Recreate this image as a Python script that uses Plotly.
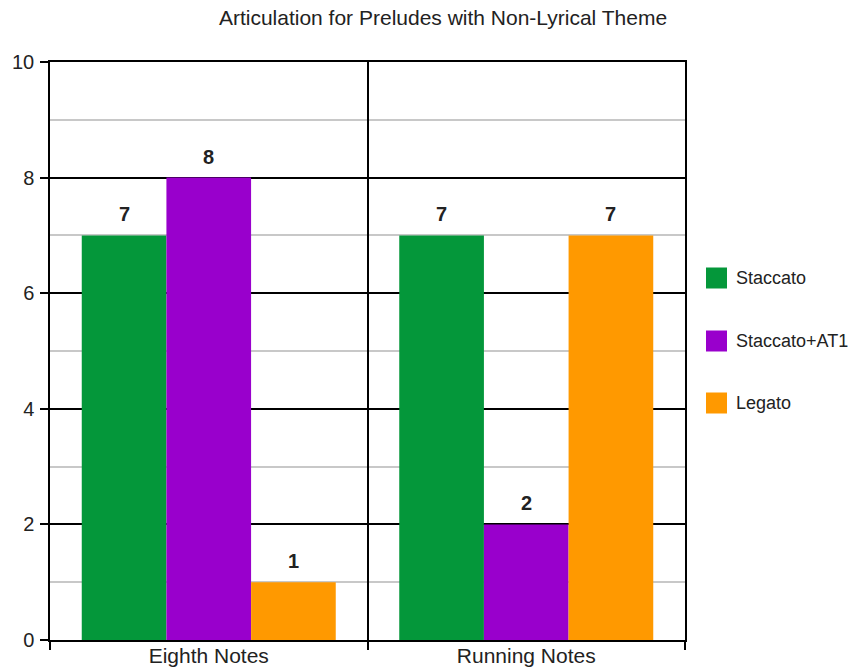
import plotly.graph_objects as go

# Chart data
categories = ["Eighth Notes", "Running Notes"]
series_names = ["Staccato", "Staccato+AT1", "Legato"]
staccato = [7, 7]
staccato_at1 = [8, 2]
legato = [1, 7]
series_values = [staccato, staccato_at1, legato]
series_colors = ["#04973a", "#9900cc", "#ff9900"]
y_ticks = [0, 2, 4, 6, 8, 10]

FONT = "Liberation Sans, Arial, sans-serif"
W, H = 848, 669
M_L, M_R, M_T, M_B = 50, 163, 62, 29
PLOT_W = W - M_L - M_R
PLOT_H = H - M_T - M_B
BARGAP = 0.2
n_series = len(series_names)
bar_px = PLOT_W / len(categories) * (1 - BARGAP) / n_series

fig = go.Figure()
annotations = []
for j, (name, vals, col) in enumerate(zip(series_names, series_values, series_colors)):
    fig.add_trace(go.Bar(
        x=categories, y=vals, name=name,
        marker=dict(color=col, line=dict(width=0)),
        showlegend=False,
    ))
    # value labels above each bar
    for cat, v in zip(categories, vals):
        annotations.append(dict(
            x=cat, y=v, xref="x", yref="y", showarrow=False,
            xshift=(j - (n_series - 1) / 2) * bar_px, yshift=8,
            xanchor="center", yanchor="bottom", text=f"<b>{v}</b>",
            font=dict(family=FONT, size=20, color="#222222"),
        ))

# Legend drawn as coloured squares with labels to the right of the plot
shapes = []
leg_x0 = 706
leg_size = 21
leg_centers = [278, 341, 403]
for name, col, cy in zip(series_names, series_colors, leg_centers):
    shapes.append(dict(
        type="rect", xref="paper", yref="paper",
        x0=(leg_x0 - M_L) / PLOT_W, x1=(leg_x0 + leg_size - M_L) / PLOT_W,
        y0=(M_T + PLOT_H - (cy + leg_size / 2)) / PLOT_H,
        y1=(M_T + PLOT_H - (cy - leg_size / 2)) / PLOT_H,
        fillcolor=col, line=dict(width=0),
    ))
    annotations.append(dict(
        xref="paper", yref="paper", showarrow=False,
        x=(734 - M_L) / PLOT_W, y=(M_T + PLOT_H - cy) / PLOT_H,
        xanchor="left", yanchor="middle", text=name,
        font=dict(family=FONT, size=18, color="#222222"),
    ))

fig.update_layout(
    width=W, height=H,
    margin=dict(l=M_L, r=M_R, t=M_T, b=M_B, pad=0),
    paper_bgcolor="white", plot_bgcolor="white",
    barmode="group", bargap=BARGAP, bargroupgap=0,
    title=dict(
        text="Articulation for Preludes with Non-Lyrical Theme",
        x=443 / W, xref="container", xanchor="center",
        y=1 - 18 / H, yref="container", yanchor="middle",
        font=dict(family=FONT, size=21, color="#222222"),
    ),
    font=dict(family=FONT, size=20, color="#222222"),
    shapes=shapes, annotations=annotations,
    showlegend=False,
)

fig.update_xaxes(
    type="category", tickson="boundaries", automargin=False,
    ticks="outside", ticklen=8, tickcolor="black", tickwidth=1.5,
    showgrid=True, gridcolor="black", gridwidth=1.5,
    showline=True, linecolor="black", linewidth=1.5, mirror=True,
    tickfont=dict(family=FONT, size=21, color="#222222"),
    ticklabelstandoff=-4,
    range=[-0.5, 1.5], fixedrange=True,
)
fig.update_yaxes(
    range=[0, 10], tickvals=y_ticks, ticktext=[str(t) for t in y_ticks],
    automargin=False,
    ticks="outside", ticklen=8, tickcolor="black", tickwidth=1.5,
    showgrid=True, gridcolor="black", gridwidth=1.5,
    showline=True, linecolor="black", linewidth=1.5, mirror=True,
    zeroline=False,
    minor=dict(dtick=1, tick0=0, showgrid=True, gridcolor="#c8c8c8", gridwidth=1.5, ticks=""),
    tickfont=dict(family=FONT, size=20, color="#222222"),
    ticklabelstandoff=2,
    fixedrange=True,
)

fig.write_html("out.html")
